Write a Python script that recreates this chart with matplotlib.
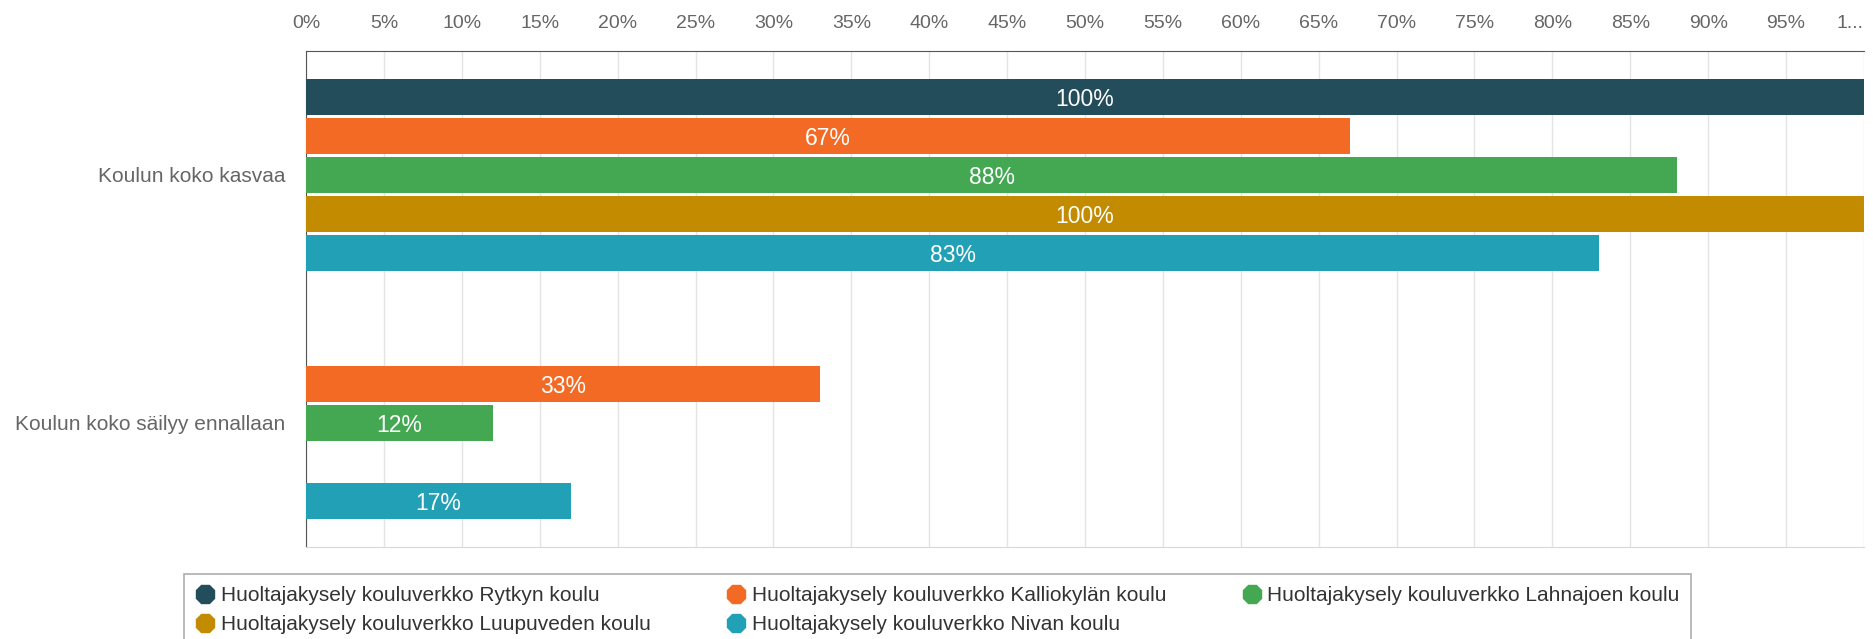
import numpy as np
import matplotlib
matplotlib.use("Agg")
import matplotlib.pyplot as plt
from matplotlib.lines import Line2D

plt.rcParams['font.family'] = ['Liberation Sans', 'DejaVu Sans']

# data
categories = ["Koulun koko kasvaa", "Koulun koko säilyy ennallaan"]
series_names = ["Huoltajakysely kouluverkko Rytkyn koulu",
                "Huoltajakysely kouluverkko Kalliokylän koulu",
                "Huoltajakysely kouluverkko Lahnajoen koulu",
                "Huoltajakysely kouluverkko Luupuveden koulu",
                "Huoltajakysely kouluverkko Nivan koulu"]
rytky = [100, 0]
kalliokyla = [67, 33]
lahnajoki = [88, 12]
luupuvesi = [100, 0]
niva = [83, 17]
colors = ["#234d5b", "#f26a24", "#44a853", "#c28b00", "#22a1b6"]
xticks = list(range(0, 101, 5))

series = [rytky, kalliokyla, lahnajoki, luupuvesi, niva]

fig = plt.figure(figsize=(18.74, 6.39), dpi=100)
ax = fig.add_axes([306/1874, 1 - 547/639, (1864 - 306)/1874, (547 - 51)/639])

slot = 0.158
bh = 0.145
ypos = np.arange(len(categories))
for i, (vals, col) in enumerate(zip(series, colors)):
    y = ypos + (i - 2) * slot
    for yy, v in zip(y, vals):
        if v <= 0:
            continue
        ax.barh(yy, v, height=bh, color=col, edgecolor="none", zorder=3)
        ax.text(v / 2, yy + 0.01, "%d%%" % v, ha="center", va="center",
                color="white", fontsize=16.5, zorder=4)

ax.set_xlim(0, 100)
ax.set_ylim(1.5, -0.5)
ax.set_yticks(ypos)
ax.set_yticklabels(categories, fontsize=15, color="#666666")
ax.set_xticks(xticks)
xlabels = ["%d%%" % t for t in xticks]
xlabels[-1] = "1..."
ax.set_xticklabels(xlabels, fontsize=14, color="#666666")
ax.xaxis.tick_top()
ax.tick_params(axis="x", length=0, pad=14)
ax.tick_params(axis="y", length=0, pad=15)
ax.get_xticklabels()[-1].set_ha("right")
ax.get_xticklabels()[-1].set_x(99.5)

ax.grid(axis="x", color="#e4e4e4", linewidth=1, zorder=0)
ax.spines["left"].set_color("#555555")
ax.spines["top"].set_color("#555555")
ax.spines["bottom"].set_color("#d8d8d8")
ax.spines["right"].set_visible(False)

# legend in column-major order so rows read like the reference
order = [0, 3, 1, 4, 2]
handles = [Line2D([], [], marker="8", linestyle="none", markersize=14,
                  color=colors[k]) for k in order]
labels = [series_names[k] for k in order]
leg = fig.legend(handles, labels, ncol=3, loc="upper left",
                 bbox_to_anchor=(174/1874, 1 - 564/639),
                 fontsize=15, frameon=True, fancybox=False,
                 handletextpad=0.3, columnspacing=3.65, labelspacing=0.5,
                 borderpad=0.55, handlelength=0.9)
leg.get_frame().set_edgecolor("#999999")
leg.get_frame().set_linewidth(1.2)
for t in leg.get_texts():
    t.set_color("#333333")

fig.savefig("out.png", dpi=100)
